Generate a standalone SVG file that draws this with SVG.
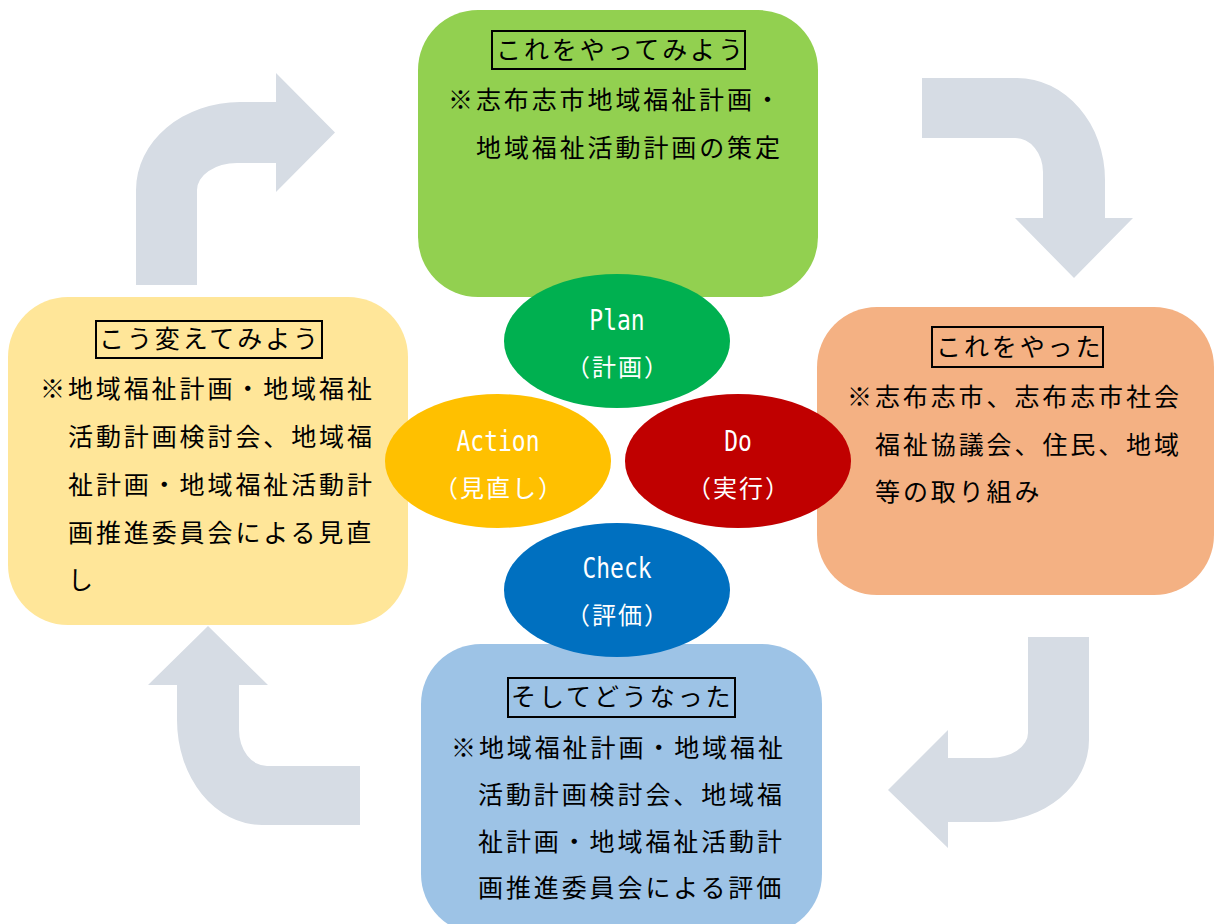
<svg xmlns="http://www.w3.org/2000/svg" width="1215" height="924" viewBox="0 0 1215 924">
<style>
.body{font-family:"Noto Sans CJK JP","Noto Sans CJK SC",sans-serif;font-size:25px;font-weight:400;letter-spacing:2.9px;fill:#000}
.ttl{fill:none;stroke:#000;stroke-width:2}
.arrow{fill:#D6DCE4}
.lat{font-family:"DejaVu Sans Mono",monospace;font-size:23px;fill:#fff;text-anchor:middle}
.jp{font-family:"Noto Sans CJK JP","Noto Sans CJK SC",sans-serif;font-size:24px;letter-spacing:2px;fill:#fff;text-anchor:middle}
</style>
<rect width="1215" height="924" fill="#fff"/>
<g id="connectors">
<path class="arrow" d="M136,285 L136,190 A104,88 0 0 1 240,102 L276,102 L276,73 L335,132.5 L276,192 L276,163 L237,163 A40,27 0 0 0 197,190 L197,285 Z"/>
<path class="arrow" d="M922,78 L1017,78 A88,102 0 0 1 1105,180 L1105,218 L1133,218 L1074,278 L1015,218 L1043,218 L1043,172 A28,34 0 0 0 1015,138 L922,138 Z"/>
<path class="arrow" d="M1028,637 L1089,637 L1089,740 A99,82 0 0 1 990,822 L948,822 L948,848 L888,790 L948,730 L948,758 L990,758 A38,25 0 0 0 1028,733 Z"/>
<path class="arrow" d="M177,685 L148,685 L208,626 L268,685 L239,685 L239,730 A28,36 0 0 0 267,766 L360,766 L360,825 L262,825 A85,105 0 0 1 177,720 Z"/>
</g>
<g id="plan-box">
<rect x="418" y="10" width="400" height="287" rx="60" fill="#92D050"/>
<rect class="ttl" x="492" y="31" width="253" height="38"/>
<text class="body" x="496" y="59">これをやってみよう</text>
<text class="body" x="448" y="109">※志布志市地域福祉計画・</text>
<text class="body" x="476" y="157">地域福祉活動計画の策定</text>
</g>
<g id="do-box">
<rect x="817" y="307" width="397" height="288" rx="60" fill="#F4B183"/>
<rect class="ttl" x="932" y="327" width="171" height="40"/>
<text class="body" x="936" y="356">これをやった</text>
<text class="body" x="847" y="406">※志布志市、志布志市社会</text>
<text class="body" x="875" y="454">福祉協議会、住民、地域</text>
<text class="body" x="875" y="501">等の取り組み</text>
</g>
<g id="action-box">
<rect x="8" y="297" width="400" height="328" rx="60" fill="#FFE699"/>
<rect class="ttl" x="96" y="321" width="226" height="37"/>
<text class="body" x="99" y="348">こう変えてみよう</text>
<text class="body" x="40" y="398">※地域福祉計画・地域福祉</text>
<text class="body" x="68" y="446">活動計画検討会、地域福</text>
<text class="body" x="68" y="494">祉計画・地域福祉活動計</text>
<text class="body" x="68" y="542">画推進委員会による見直</text>
<text class="body" x="68" y="589">し</text>
</g>
<g id="check-box">
<rect x="421" y="644" width="401" height="290" rx="60" fill="#9DC3E6"/>
<rect class="ttl" x="508" y="678" width="227" height="39"/>
<text class="body" x="511" y="706">そしてどうなった</text>
<text class="body" x="451" y="757">※地域福祉計画・地域福祉</text>
<text class="body" x="478" y="804">活動計画検討会、地域福</text>
<text class="body" x="478" y="851">祉計画・地域福祉活動計</text>
<text class="body" x="478" y="897">画推進委員会による評価</text>
</g>
<g id="plan">
<ellipse cx="617" cy="341" rx="113" ry="67" fill="#00B050"/>
<text class="lat" transform="translate(617,330) scale(1,1.2)">Plan</text>
<text class="jp" x="618" y="376">（計画）</text>
</g>
<g id="action">
<ellipse cx="498" cy="461" rx="113" ry="67" fill="#FFC000"/>
<text class="lat" transform="translate(498,451) scale(1,1.2)">Action</text>
<text class="jp" x="499" y="497">（見直し）</text>
</g>
<g id="do">
<ellipse cx="738" cy="461" rx="113" ry="67" fill="#C00000"/>
<text class="lat" transform="translate(738,451) scale(1,1.2)">Do</text>
<text class="jp" x="739" y="497">（実行）</text>
</g>
<g id="check">
<ellipse cx="617" cy="590" rx="113" ry="67" fill="#0070C0"/>
<text class="lat" transform="translate(617,578) scale(1,1.2)">Check</text>
<text class="jp" x="618" y="624">（評価）</text>
</g>
</svg>
